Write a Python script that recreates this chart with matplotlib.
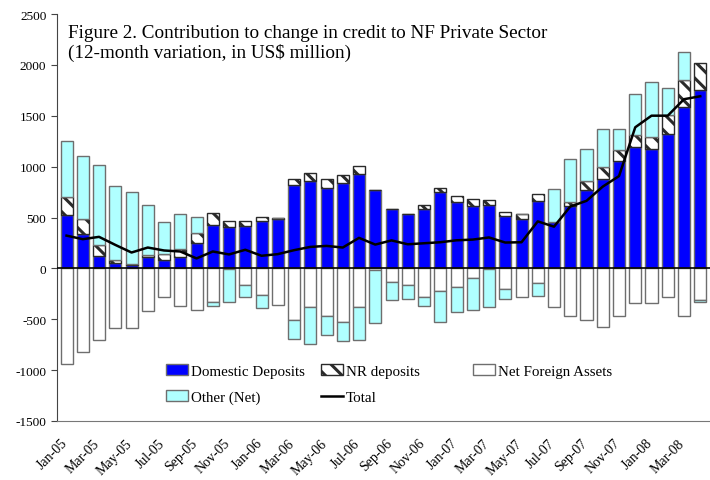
import numpy as np
import pandas as pd
import matplotlib
matplotlib.use('Agg')
import matplotlib.pyplot as plt
import matplotlib.transforms as mtransforms

plt.rcParams['font.family'] = 'Liberation Serif'
plt.rcParams['axes.unicode_minus'] = False
plt.rcParams['hatch.linewidth'] = 2.2

months = pd.date_range('2005-01-01', periods=40, freq='MS').strftime('%b-%y').tolist()

domestic = [520, 336, 117, 53, 36, 108, 78, 108, 248, 424, 410, 420, 466, 490, 815, 859, 795, 840, 932, 767,
            580, 534, 580, 752, 654, 615, 625, 514, 485, 660, 456, 618, 771, 875, 1051, 1197, 1172, 1324, 1588, 1749]
nr_dep = [180, 146, 114, 29, 10, 23, 62, 81, 101, 117, 53, 43, 42, 8, 64, 82, 84, 82, 78, 0,
          0, 0, 42, 39, 55, 68, 48, 39, 49, 76, 0, 39, 92, 125, 115, 116, 117, 187, 265, 266]
nfa = [-940, -826, -703, -586, -590, -423, -283, -371, -410, -328, -5, -163, -263, -358, -508, -380, -468, -523, -375, -20,
       -130, -164, -283, -220, -186, -92, -5, -205, -283, -140, -381, -466, -512, -573, -466, -339, -342, -283, -466, -312]
other = [557, 621, 785, 723, 700, 494, 319, 342, 153, -39, -325, -117, -124, 0, -185, -359, -190, -195, -333, -515,
         -178, -133, -88, -307, -243, -318, -370, -98, 0, -127, 325, 417, 312, 373, 201, 406, 543, 263, 270, -15]
total = [322, 287, 310, 231, 156, 205, 176, 166, 98, 166, 137, 183, 124, 140, 179, 211, 221, 205, 300, 234,
         275, 237, 247, 257, 276, 283, 304, 254, 257, 462, 410, 608, 664, 804, 907, 1387, 1501, 1501, 1663, 1692]

x = np.arange(len(months))
w = 0.74
edge = '#6e6e6e'

fig = plt.figure(figsize=(7.10, 4.81), dpi=100)
ax = fig.add_axes([0.080, 0.1227, 0.92, 0.846])

# stack positives upward and negatives downward, series by series
pos = np.zeros(len(x))
neg = np.zeros(len(x))
series = [
    (domestic, 'Domestic Deposits', dict(color='#0000ff', edgecolor=edge)),
    (nr_dep, 'NR deposits', dict(color='white', edgecolor='#2a2a2a', hatch='\\\\')),
    (nfa, 'Net Foreign Assets', dict(color='white', edgecolor=edge)),
    (other, 'Other (Net)', dict(color='#b0ffff', edgecolor=edge)),
]
handles = {}
for vals, name, style in series:
    v = np.array(vals, dtype=float)
    bottom = np.where(v >= 0, pos, neg)
    bars = ax.bar(x, v, w, bottom=bottom, label=name, linewidth=1.0, zorder=2, **style)
    handles[name] = bars
    pos = pos + np.where(v >= 0, v, 0)
    neg = neg + np.where(v < 0, v, 0)

line, = ax.plot(x, total, color='black', lw=1.8, label='Total', zorder=4)
handles['Total'] = line

ax.axhline(0, color='black', lw=1.2, zorder=3)

ax.set_xlim(-0.6, len(x) - 0.4)
ax.set_ylim(-1500, 2500)
ax.set_yticks(range(-1500, 2501, 500))
ax.set_xticks(x[::2])
ax.set_xticklabels(months[::2], rotation=45, ha='right', rotation_mode='anchor', fontsize=10)
ax.tick_params(axis='y', labelsize=9.5, length=4, color='#444444')
ax.tick_params(axis='x', length=0, pad=11)
shift = mtransforms.ScaledTranslation(-0.06, 0, fig.dpi_scale_trans)
for lab in ax.get_xticklabels():
    lab.set_transform(lab.get_transform() + shift)

for s in ['top', 'right']:
    ax.spines[s].set_visible(False)
ax.spines['left'].set_color('#444444')
ax.spines['bottom'].set_color('#777777')

ax.text(0.017, 0.975, 'Figure 2. Contribution to change in credit to NF Private Sector\n'
        '(12-month variation, in US$ million)', transform=ax.transAxes,
        fontsize=13.8, va='top', ha='left', linespacing=1.1)

leg_kw = dict(frameon=False, fontsize=10.8, handlelength=1.47, handletextpad=0.2,
              borderpad=0, borderaxespad=0, labelspacing=0.85)
leg1 = ax.legend([handles['Domestic Deposits'], handles['Other (Net)'], handles['NR deposits'], handles['Total']],
                 ['Domestic Deposits', 'Other (Net)', 'NR deposits', 'Total'],
                 ncol=2, loc='upper left', bbox_to_anchor=(0.167, 0.140), columnspacing=1.05, **leg_kw)
ax.add_artist(leg1)
ax.legend([handles['Net Foreign Assets']], ['Net Foreign Assets'], loc='upper left',
          bbox_to_anchor=(0.637, 0.140), **leg_kw)

plt.savefig('out.png', dpi=100)
